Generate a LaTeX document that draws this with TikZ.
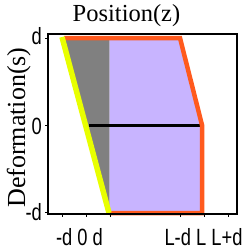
\documentclass[tikz,border=0pt]{standalone}
\usepackage{fontspec}
\newfontfamily\serifA{Liberation Serif}
\newfontfamily\sansA{Liberation Sans}
\definecolor{lav}{RGB}{200,180,255}
\definecolor{grayfill}{RGB}{128,128,128}
\definecolor{yel}{RGB}{232,255,0}
\definecolor{orng}{RGB}{255,90,30}
\tikzset{
  ticklab/.style={inner sep=0pt, font=\sansA\fontsize{23.5}{24}\selectfont},
  axisline/.style={line width=1.4pt, black},
}
\newcommand{\nrw}[1]{\scalebox{0.78}[1]{#1}}
\begin{document}
\begin{tikzpicture}[x=1pt,y=-1pt]
\useasboundingbox (0,0) rectangle (250,252);
% fills
\fill[grayfill] (62,38) -- (109.5,38) -- (109.5,213) -- cycle;
\fill[lav] (109.5,38) -- (180,38) -- (202,125) -- (202,213) -- (109.5,213) -- cycle;
% black line
\draw[line width=3pt] (89,125) -- (200,125);
% orange outline
\draw[orng, line width=4.5pt, line join=miter] (64,38) -- (180,38) -- (202,125) -- (202,213) -- (109.5,213);
% yellow line
\draw[yel, line width=5.5pt] (62,37) -- (109,213);
% frame
\draw[axisline] (48,34) rectangle (237,214);
\foreach \x in {62,86,110,180,204,228} \draw[line width=1pt] (\x,214) -- (\x,217);
\foreach \y in {38,125,212} \draw[line width=1pt] (45,\y) -- (48,\y);
% labels
\node[anchor=base, inner sep=0pt, font=\serifA\fontsize{24.5}{25}\selectfont] (title) at (126.5,21) {Position(z)};
\node[anchor=base, rotate=90, inner sep=0pt, font=\serifA\fontsize{26}{26}\selectfont] (ylab) at (25,127.5) {Deformation(s)};
\node[ticklab, anchor=base] (xl1) at (79.5,245) {\nrw{-d 0 d}};
\node[ticklab, anchor=base] (xl2) at (203.5,245) {\nrw{L-d L L+d}};
\node[ticklab, anchor=base east] (yl1) at (42,44) {\nrw{d}};
\node[ticklab, anchor=base east] (yl2) at (42,134) {\nrw{0}};
\node[ticklab, anchor=base east] (yl3) at (42,220.5) {\nrw{-d}};
\end{tikzpicture}
\end{document}
